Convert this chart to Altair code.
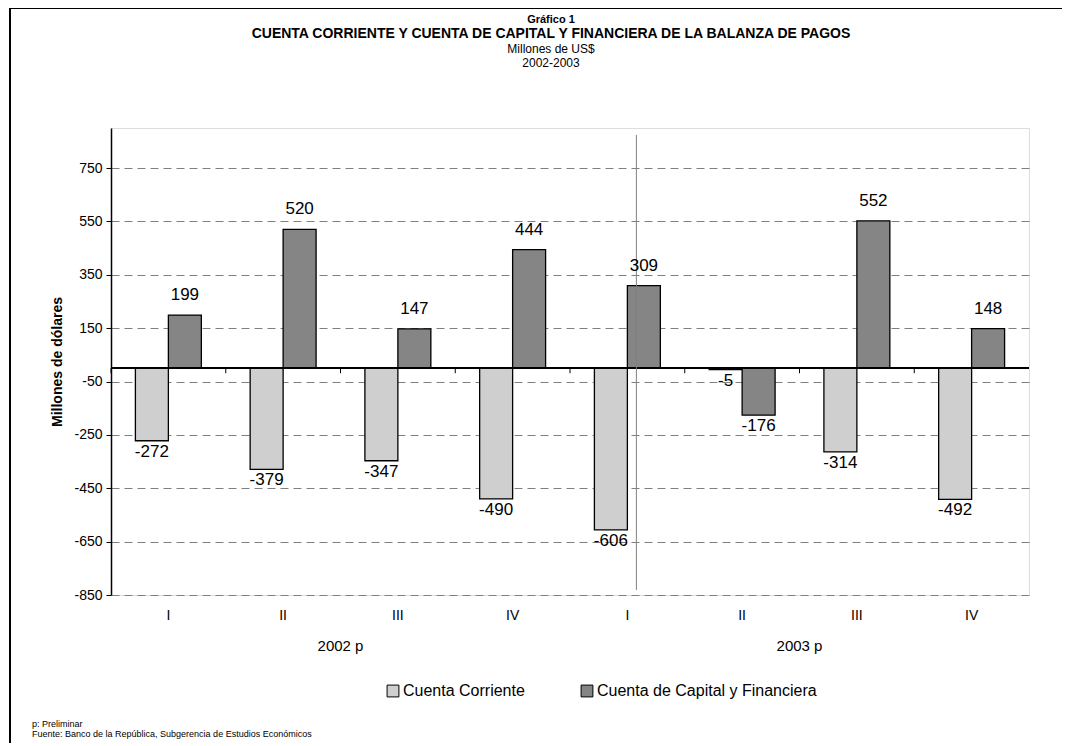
import altair as alt
import pandas as pd

quarters = ["I", "II", "III", "IV", "I", "II", "III", "IV"]
years = ["2002 p", "2002 p", "2002 p", "2002 p", "2003 p", "2003 p", "2003 p", "2003 p"]
cuenta_corriente = [-272, -379, -347, -490, -606, -5, -314, -492]
cuenta_capital = [199, 520, 147, 444, 309, -176, 552, 148]
series = ["Cuenta Corriente", "Cuenta de Capital y Financiera"]
y_ticks = [-850, -650, -450, -250, -50, 150, 350, 550, 750]
title_lines = ["Gráfico 1",
               "CUENTA CORRIENTE Y CUENTA DE CAPITAL Y FINANCIERA DE LA BALANZA DE PAGOS",
               "Millones de US$", "2002-2003"]
footnotes = ["p:  Preliminar",
             "Fuente: Banco de la República, Subgerencia de Estudios Económicos"]

cats = [f"{y}|{q}" for y, q in zip(years, quarters)]
rows = []
for c, a, b in zip(cats, cuenta_corriente, cuenta_capital):
    rows.append({"cat": c, "serie": series[0], "value": a})
    rows.append({"cat": c, "serie": series[1], "value": b})
df = pd.DataFrame(rows)
df_cats = pd.DataFrame({"cat": cats})
df_years = pd.DataFrame({"cat": [cats[2], cats[6]], "year": [years[0], years[4]]})
df_sep = pd.DataFrame({"cat": [cats[4]]})

FONT = "Liberation Sans, Arial, sans-serif"

xscale = alt.Scale(domain=cats, paddingInner=0, paddingOuter=0)
yscale = alt.Scale(domain=[-850, 900], nice=False, zero=False)
xo_scale = alt.Scale(domain=series, paddingInner=0, paddingOuter=0.74)

xenc = alt.X("cat:N", scale=xscale, sort=cats, title=None,
             axis=alt.Axis(labelExpr="split(datum.value, '|')[1]", ticks=False, domain=False,
                           labelPadding=13, labelFontSize=14, labelFont=FONT,
                           labelColor="black", labelAngle=0, grid=False))
yenc = alt.Y("value:Q", scale=yscale, title="Millones de dólares",
             axis=alt.Axis(values=y_ticks, grid=True, gridDash=[8, 5], gridColor="#808080",
                           gridWidth=1, domainColor="black", domainWidth=1.5,
                           labelExpr="datum.value + ''",
                           tickColor="black", tickSize=5, labelFontSize=14, labelFont=FONT,
                           labelColor="black", labelPadding=4, titleFont=FONT,
                           titleFontSize=14, titleFontWeight="bold", titleColor="black",
                           titlePadding=9))

bars = alt.Chart(df).mark_bar(stroke="black", strokeWidth=1.3).encode(
    x=xenc,
    xOffset=alt.XOffset("serie:N", scale=xo_scale, sort=series),
    y=yenc,
    color=alt.Color("serie:N", sort=series,
                    scale=alt.Scale(domain=series, range=["#cfcfcf", "#858585"]),
                    legend=alt.Legend(title=None, orient="none", legendX=274, legendY=555,
                                      direction="horizontal", symbolType="square",
                                      symbolSize=140, symbolStrokeColor="black",
                                      symbolStrokeWidth=1, labelFontSize=16, labelFont=FONT,
                                      labelColor="black", labelOffset=2, columnPadding=54,
                                      labelLimit=400)),
)

zero = alt.Chart(df_cats).mark_rule(color="black", strokeWidth=1.2).encode(y=alt.datum(0))

ticks = alt.Chart(df_cats).mark_rule(color="black", strokeWidth=1).encode(
    x=alt.X("cat:N", scale=xscale, sort=cats, bandPosition=0),
    y=alt.datum(0), y2=alt.datum(-19),
)

sep = alt.Chart(df_sep).mark_rule(color="#808080", strokeWidth=1, xOffset=9).encode(
    x=alt.X("cat:N", scale=xscale, sort=cats, bandPosition=0.5),
    y=alt.datum(874), y2=alt.datum(-831),
)

lab_common = dict(fontSize=17, font=FONT, color="black")
pos_labels = alt.Chart(df).transform_filter("datum.value >= 0").transform_calculate(
    txt="datum.value + ''").mark_text(baseline="bottom", dy=-11, **lab_common).encode(
    x=alt.X("cat:N", scale=xscale, sort=cats),
    xOffset=alt.XOffset("serie:N", scale=xo_scale, sort=series),
    y=alt.Y("value:Q", scale=yscale), text="txt:N")
neg_labels = alt.Chart(df).transform_filter("datum.value < 0").transform_calculate(
    txt="datum.value + ''").mark_text(baseline="top", dy=3, **lab_common).encode(
    x=alt.X("cat:N", scale=xscale, sort=cats),
    xOffset=alt.XOffset("serie:N", scale=xo_scale, sort=series),
    y=alt.Y("value:Q", scale=yscale), text="txt:N")

year_labels = alt.Chart(df_years).mark_text(fontSize=15, font=FONT, color="black",
                                            baseline="middle").encode(
    x=alt.X("cat:N", scale=xscale, sort=cats, bandPosition=0),
    y=alt.value(518), text="year:N")

df_title = pd.DataFrame({"t": title_lines, "yy": [-108, -94, -79, -65],
                         "fs": [11, 14, 12, 12], "fw": ["bold", "bold", "normal", "normal"]})
title_marks = []
for i, r in df_title.iterrows():
    title_marks.append(
        alt.Chart(df_title.iloc[[i]]).mark_text(
            font=FONT, fontSize=int(r["fs"]), fontWeight=r["fw"], color="black",
            baseline="middle", align="center").encode(
            x=alt.value(440), y=alt.value(int(r["yy"])), text="t:N"))

notes = pd.DataFrame({"t": footnotes, "yy": [599, 609]})
foot = alt.Chart(notes).mark_text(fontSize=9, font=FONT, color="black", align="left",
                                  baseline="alphabetic").encode(
    x=alt.value(-79), y=alt.Y("yy:Q", scale=None), text="t:N")

border_top = alt.Chart(df_sep).mark_rule(color="black", strokeWidth=2).encode(
    x=alt.value(-101), x2=alt.value(960), y=alt.value(-120))
border_left = alt.Chart(df_sep).mark_rule(color="black", strokeWidth=2).encode(
    x=alt.value(-101), y=alt.value(-120), y2=alt.value(640))

chart = alt.layer(bars, zero, ticks, sep, pos_labels, neg_labels, year_labels, foot,
                  border_top, border_left, *title_marks).properties(
    width=918, height=467,
    autosize=alt.AutoSizeParams(type="none"),
    padding={"left": 103, "top": 120, "right": 33, "bottom": 148},
).configure_view(stroke="black", strokeWidth=1.5).configure(background="white")

chart.save("out.html", embed_options={"renderer": "svg", "actions": False})
